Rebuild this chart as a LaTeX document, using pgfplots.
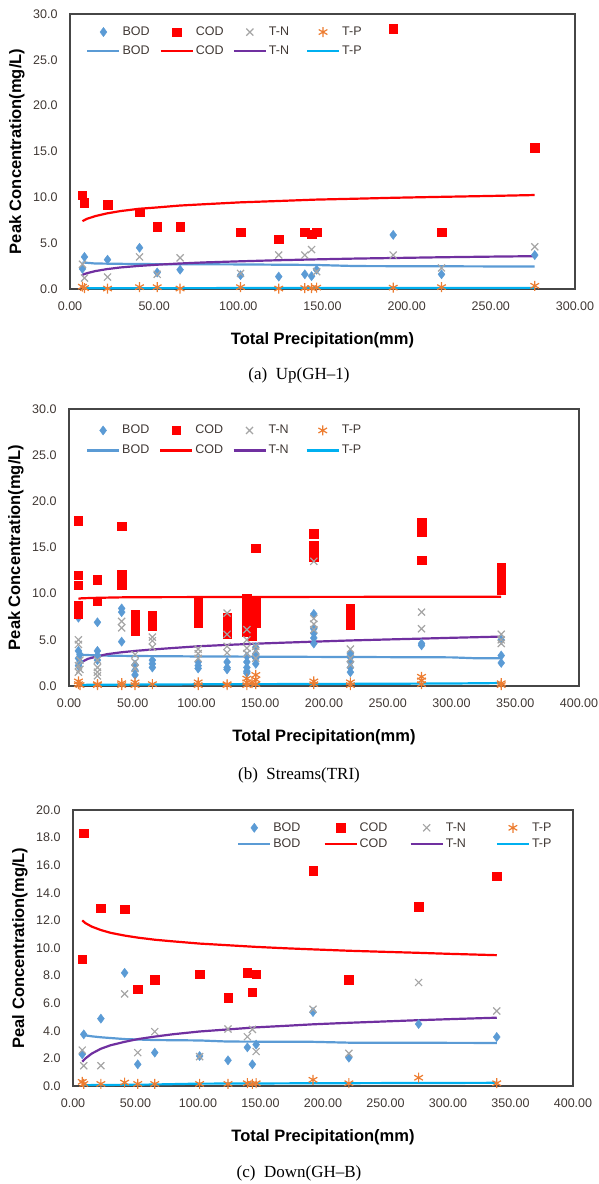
\documentclass[border=0pt]{standalone}
\usepackage{fontspec}
\setmainfont{Liberation Sans}
\newfontfamily\capfont{Liberation Serif}
\usepackage{pgfplots}
\pgfplotsset{compat=1.18}

\definecolor{bodc}{RGB}{91,155,213}
\definecolor{codc}{RGB}{255,0,0}
\definecolor{tnc}{RGB}{165,165,165}
\definecolor{tpc}{RGB}{237,125,49}
\definecolor{tnl}{RGB}{112,48,160}
\definecolor{tpl}{RGB}{0,176,240}
\definecolor{txt}{RGB}{64,56,52}
\definecolor{framec}{RGB}{70,70,70}

\pgfplotsset{
  panel/.style={
    scale only axis, clip=false, xmin=0, ymin=0,
    axis line style={draw=framec, line width=1.3pt},
    major tick length=0pt,
    /pgf/number format/assume math mode=true,
    tick label style={font=\fontsize{12.5}{14}\selectfont, text=txt},
    x tick label style={yshift=-9pt, /pgf/number format/.cd, fixed, fixed zerofill, precision=2},
    y tick label style={xshift=-9pt, /pgf/number format/.cd, fixed, fixed zerofill, precision=1},
    xlabel style={at={([yshift=-51pt]axis description cs:0.5,0)}, anchor=center, font=\bfseries\fontsize{16.5}{18}\selectfont},
    ylabel style={at={([xshift=-53pt]axis description cs:0,0.5)}, anchor=center, font=\bfseries\fontsize{16.5}{18}\selectfont},
    legend columns=4,
    legend cell align=left,
    legend style={draw=none, fill=none, inner sep=0pt, anchor=north west, column sep=0pt,
      font=\fontsize{12.5}{13}\selectfont,
      nodes={inner xsep=2pt, inner ysep=0pt, text height=9pt, text depth=2.5pt, text=txt, align=left}},
    legend image code/.code={\draw[mark repeat=2,mark phase=2,##1] plot coordinates {(0pt,0pt) (16pt,0pt) (32pt,0pt)};},
  },
  bodm/.style={only marks, mark=diamond*, mark size=4.6pt, color=bodc},
  codm/.style={only marks, mark=square*, mark size=4.2pt, color=codc},
  tnm/.style={only marks, mark=x, mark size=5pt, color=tnc, line width=1.2pt},
  tpm/.style={only marks, mark=asterisk, mark size=5pt, color=tpc, line width=1.2pt},
  trend/.style={no markers, line width=2.2pt, color=#1},
}

\begin{document}
\begin{tikzpicture}
\useasboundingbox (0,0) rectangle (598pt,1184pt);

% (a) Up(GH-1)
\begin{axis}[panel, at={(70pt,895pt)}, anchor=south west, width=505pt, height=275pt,
  xmax=300, ymax=30, xtick={0,50,...,300}, ytick={0,5,...,30},
  xlabel={Total Precipitation(mm)}, ylabel={Peak Concentration(mg/L)},
  legend style={at={(0.032,0.956)}, row sep=7.5pt, nodes={text width=35pt}}]
\addplot[bodm] coordinates {(7.4,2.2) (8.6,3.5) (22.3,3.2) (41.3,4.5) (51.8,1.8) (65.4,2.1) (101.3,1.5) (124,1.35) (139.5,1.6) (143.5,1.4) (146.5,2.1) (192,5.9) (220.7,1.6) (276.1,3.7)};
\addplot[codm] coordinates {(7.4,10.2) (8.6,9.4) (22.3,9.2) (41.3,8.4) (51.8,6.8) (65.4,6.8) (101.3,6.2) (124,5.4) (139.5,6.2) (143.5,6.0) (146.5,6.2) (192,28.4) (220.7,6.2) (276.1,15.4)};
\addplot[tnm] coordinates {(7.4,2.7) (8.6,1.2) (22.3,1.3) (41.3,3.5) (51.8,1.6) (65.4,3.4) (101.3,1.7) (124,3.7) (139.5,3.7) (143.5,4.3) (146.5,1.9) (192,3.7) (220.7,2.3) (276.1,4.6)};
\addplot[tpm] coordinates {(7.4,0.25) (8.6,0.1) (22.3,0.05) (41.3,0.2) (51.8,0.2) (65.4,0.05) (101.3,0.2) (124,0.05) (139.5,0.1) (143.5,0.1) (146.5,0.15) (192,0.15) (220.7,0.2) (276.1,0.35)};
\addplot[trend=bodc] coordinates {(7.4,2.9) (15,2.78) (41,2.72) (101,2.68) (146,2.62) (170,2.5) (276,2.45)};
\addplot[trend=codc] coordinates {(7.4,7.4) (10,7.65) (15,7.95) (22,8.25) (30,8.5) (41,8.75) (52,8.9) (65,9.1) (80,9.25) (101,9.45) (124,9.6) (146,9.75) (170,9.85) (192,9.95) (220,10.05) (250,10.15) (276,10.25)};
\addplot[trend=tnl] coordinates {(7.4,1.55) (10,1.72) (15,1.95) (22,2.17) (30,2.35) (41,2.52) (52,2.65) (65,2.78) (80,2.9) (101,3.02) (124,3.14) (146,3.23) (170,3.32) (192,3.38) (220,3.46) (250,3.53) (276,3.58)};
\addplot[trend=tpl] coordinates {(7.4,0.08) (100,0.1) (276,0.12)};
\legend{BOD,COD,T-N,T-P,BOD,COD,T-N,T-P}
\end{axis}
\node[font=\capfont\fontsize{17}{19}\selectfont] at (299pt,809pt) {(a)\enspace Up(GH–1)};

% (b) Streams(TRI)
\begin{axis}[panel, at={(69pt,498pt)}, anchor=south west, width=510pt, height=277pt,
  xmax=400, ymax=30, xtick={0,50,...,400}, ytick={0,5,...,30},
  xlabel={Total Precipitation(mm)}, ylabel={Peak Concentration(mg/L)},
  legend style={at={(0.033,0.944)}, row sep=8.5pt, nodes={text width=35pt}}]
\addplot[bodm] coordinates {(7.4,7.4) (7.4,3.8) (7.4,3.0) (7.4,2.2) (8.6,3.4) (8.6,2.6)
  (22.3,6.9) (22.3,3.8) (22.3,3.3) (22.3,2.8) (41.3,8.4) (41.3,8.0) (41.3,4.8)
  (51.8,2.3) (51.8,1.7) (51.8,1.2) (65.4,2.8) (65.4,2.4) (65.4,2.0)
  (101.3,2.6) (101.3,2.2) (101.3,1.9) (124,2.6) (124,2.0) (124,1.8)
  (139.5,3.2) (139.5,2.6) (139.5,2.0) (139.5,1.6) (139.5,1.4) (146.5,4.2) (146.5,3.5) (146.5,3.0) (146.5,2.4)
  (192,7.8) (192,6.2) (192,5.7) (192,5.2) (192,4.6) (220.7,3.5) (220.7,3.1) (220.7,2.6) (220.7,2.0) (220.7,1.5)
  (276.5,4.6) (276.5,4.4) (339,5.0) (339,3.3) (339,2.5)};
\addplot[codm] coordinates {(7.4,17.9) (7.4,12.0) (7.4,10.9) (7.4,8.7) (7.4,8.2) (7.4,7.8)
  (22.3,11.5) (22.3,9.2) (41.3,17.3) (41.3,12.1) (41.3,11.5) (41.3,10.9)
  (51.8,7.8) (51.8,7.2) (51.8,6.6) (51.8,6.0) (65.4,7.6) (65.4,7.0) (65.4,6.5)
  (101.3,9.1) (101.3,8.5) (101.3,7.8) (101.3,7.2) (101.3,6.8) (124,7.4) (124,6.8) (124,6.2) (124,5.6)
  (139.5,9.5) (139.5,8.8) (139.5,8.0) (139.5,7.2) (139.5,6.5) (139.5,5.9) (143.5,6.0) (143.5,5.4)
  (146.5,14.9) (146.5,9.2) (146.5,8.5) (146.5,7.7) (146.5,6.8)
  (192,16.5) (192,15.2) (192,14.6) (192,14.0) (220.7,8.4) (220.7,7.8) (220.7,7.2) (220.7,6.6)
  (276.5,17.75) (276.5,16.7) (276.5,13.6) (339,12.8) (339,12.2) (339,11.6) (339,11.0) (339,10.4)};
\addplot[tnm] coordinates {(7.4,5.0) (7.4,4.5) (7.4,2.2) (7.4,1.5) (8.6,2.8) (8.6,1.8)
  (22.3,2.8) (22.3,2.0) (22.3,1.5) (22.3,1.1) (41.3,7.0) (41.3,6.3)
  (51.8,3.4) (51.8,2.6) (51.8,1.9) (65.4,5.3) (65.4,4.9) (65.4,4.2)
  (101.3,4.0) (101.3,3.5) (101.3,3.0) (124,7.9) (124,5.6) (124,4.3) (124,3.6)
  (139.5,6.1) (139.5,5.0) (139.5,4.1) (139.5,3.5) (146.5,4.3) (146.5,3.8) (146.5,3.0)
  (192,13.5) (192,7.3) (192,6.7) (192,6.1) (220.7,4.0) (220.7,3.0) (220.7,2.3)
  (276.5,8.0) (276.5,6.2) (339,5.6) (339,5.0) (339,4.6)};
\addplot[tpm] coordinates {(7.4,0.5) (7.4,0.2) (8.6,0.1) (22.3,0.2) (22.3,0.1) (41.3,0.3) (41.3,0.1)
  (51.8,0.4) (51.8,0.1) (65.4,0.2) (101.3,0.4) (101.3,0.1) (124,0.2) (124,0.1)
  (139.5,0.8) (139.5,0.4) (139.5,0.1) (143.5,0.3) (146.5,1.2) (146.5,0.7) (146.5,0.2)
  (192,0.5) (192,0.2) (220.7,0.4) (220.7,0.1) (276.5,1.0) (276.5,0.6) (276.5,0.2) (339,0.3) (339,0.1)};
\addplot[trend=bodc] coordinates {(7.4,3.4) (15,3.35) (23,3.3) (50,3.25) (100,3.2) (200,3.15) (300,3.1) (320,3.0) (339,3.0)};
\addplot[trend=codc] coordinates {(7.4,9.45) (10,9.5) (22,9.55) (41,9.6) (65,9.62) (101,9.63) (146,9.64) (192,9.65) (276,9.66) (339,9.67)};
\addplot[trend=tnl] coordinates {(7.4,2.3) (10,2.6) (15,2.95) (22,3.2) (30,3.45) (41,3.65) (52,3.8) (65,3.95) (80,4.1) (101,4.3) (124,4.45) (146,4.58) (170,4.7) (192,4.8) (220,4.93) (250,5.04) (276,5.13) (300,5.22) (339,5.35)};
\addplot[trend=tpl] coordinates {(7.4,0.12) (100,0.18) (200,0.22) (300,0.27) (339,0.32)};
\legend{BOD,COD,T-N,T-P,BOD,COD,T-N,T-P}
\end{axis}
\node[font=\capfont\fontsize{17}{19}\selectfont] at (299pt,409pt) {(b)\enspace Streams(TRI)};

% (c) Down(GH-B)
\begin{axis}[panel, at={(73pt,98pt)}, anchor=south west, width=500pt, height=276pt,
  xmax=400, ymax=20, xtick={0,50,...,400}, ytick={0,2,...,20},
  xlabel={Total Precipitation(mm)}, ylabel={Peal Concentration(mg/L)},
  legend style={at={(0.328,0.957)}, row sep=4.5pt, nodes={text width=48pt}}]
\addplot[bodm] coordinates {(8.6,3.74) (7.4,2.3) (22.3,4.88) (41.3,8.2) (51.8,1.57) (65.4,2.42) (101.3,2.17) (124,1.86) (139.5,2.8) (146.5,3.0) (143.5,1.57) (192,5.36) (220.7,2.05) (276.5,4.49) (339,3.55)};
\addplot[codm] coordinates {(8.6,18.3) (7.4,9.2) (22.3,12.9) (41.3,12.8) (51.8,7.0) (65.4,7.7) (101.3,8.1) (124,6.4) (139.5,8.2) (146.5,8.1) (143.5,6.8) (192,15.6) (220.7,7.7) (276.5,13.0) (339,15.2)};
\addplot[tnm] coordinates {(7.4,2.6) (8.6,1.47) (22.3,1.47) (41.3,6.67) (51.8,2.42) (65.4,3.94) (101.3,2.13) (124,4.13) (139.5,3.57) (143.5,4.1) (146.5,2.5) (192,5.56) (220.7,2.37) (276.5,7.5) (339,5.43)};
\addplot[tpm] coordinates {(7.4,0.3) (8.6,0.15) (22.3,0.15) (41.3,0.25) (51.8,0.15) (65.4,0.15) (101.3,0.15) (124,0.15) (139.5,0.2) (143.5,0.15) (146.5,0.2) (192,0.45) (220.7,0.2) (276.5,0.6) (339,0.2)};
\addplot[trend=bodc] coordinates {(7.4,3.7) (15,3.6) (22.3,3.53) (41.3,3.4) (65.4,3.33) (101.3,3.3) (124,3.22) (192,3.2) (220.7,3.14) (339,3.12)};
\addplot[trend=codc] coordinates {(7.4,12.0) (10,11.8) (15,11.55) (22.3,11.3) (30,11.1) (41.3,10.9) (52,10.75) (65.4,10.6) (80,10.48) (101.3,10.32) (124,10.2) (146.5,10.08) (170,9.98) (192,9.9) (220.7,9.8) (250,9.72) (276.5,9.65) (300,9.58) (339,9.48)};
\addplot[trend=tnl] coordinates {(7.4,1.76) (10,2.0) (15,2.35) (22.3,2.7) (30,2.95) (41.3,3.2) (52,3.4) (65.4,3.58) (80,3.75) (101.3,3.95) (124,4.1) (146.5,4.25) (170,4.36) (192,4.47) (220.7,4.58) (250,4.68) (276.5,4.77) (300,4.84) (339,4.95)};
\addplot[trend=tpl] coordinates {(7.4,0.06) (60,0.1) (100,0.17) (200,0.2) (339,0.23)};
\legend{BOD,COD,T-N,T-P,BOD,COD,T-N,T-P}
\end{axis}
\node[font=\capfont\fontsize{17}{19}\selectfont] at (299pt,11pt) {(c)\enspace Down(GH–B)};
\end{tikzpicture}
\end{document}
